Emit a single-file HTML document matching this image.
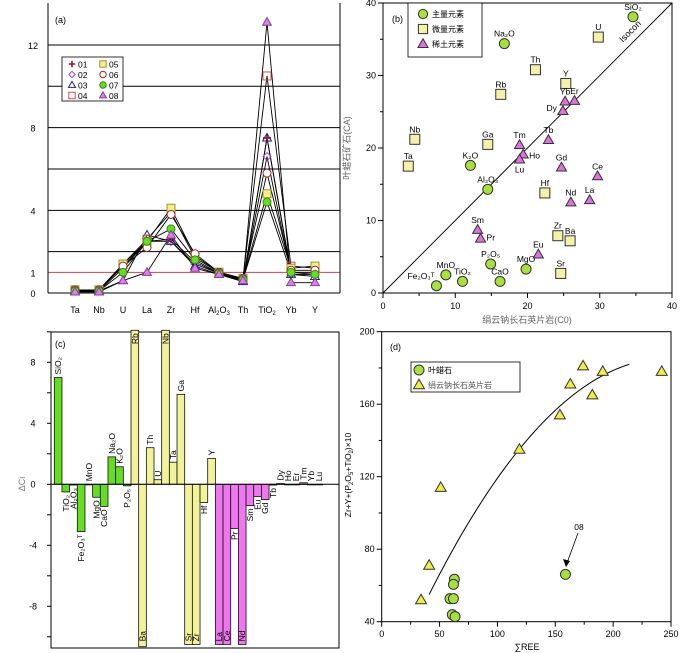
<!DOCTYPE html>
<html><head><meta charset="utf-8"><style>
html,body{margin:0;padding:0;background:#fff;}
svg{display:block;font-family:"Liberation Sans","Noto Sans CJK SC",sans-serif;}
</style></head><body>
<svg id="fig" width="700" height="653" viewBox="0 0 700 653" xmlns="http://www.w3.org/2000/svg">
<g id="pa"></g>
<g id="pb"></g>
<g id="pc"></g>
<g id="pd"></g>
</svg>
<script>
// ---------- Panel (a) data ----------
const aCats = ["Ta","Nb","U","La","Zr","Hf","Al2O3","Th","TiO2","Yb","Y"];
const aSamples = ["01","02","03","04","05","06","07","08"];
const a01 = [0.15,0.15,1.3,2.5,2.6,1.5,0.95,0.6,7.5,1.0,1.0];
const a02 = [0.1,0.1,1.2,2.5,2.5,1.4,0.95,0.6,6.6,0.9,0.9];
const a03 = [0.1,0.1,0.6,2.8,2.5,1.3,0.9,0.55,7.5,0.9,0.8];
const a04 = [0.15,0.15,1.4,2.6,3.9,1.7,1.0,0.7,10.5,1.3,1.2];
const a05 = [0.15,0.15,1.4,2.5,4.1,1.8,1.0,0.7,4.8,1.2,1.3];
const a06 = [0.15,0.15,1.3,2.2,3.8,1.9,1.0,0.7,5.8,1.1,1.1];
const a07 = [0.1,0.1,1.0,2.5,3.1,1.6,0.95,0.65,4.4,1.0,0.9];
const a08 = [0.05,0.05,0.6,1.0,2.8,1.2,0.9,0.6,13.1,0.5,0.5];
const aYTicks = [0,1,4,8,12];
const aGrid = [2,4,6,8,10,12];
// ---------- Panel (b) data ----------
const bMajorNames = ["SiO2","Na2O","K2O","Al2O3","P2O5","MgO","CaO","TiO2","MnO","Fe2O3T"];
const bMajorX = [34.6,16.8,12.1,14.5,14.9,19.8,16.2,11.0,8.7,7.4];
const bMajorY = [38.1,34.4,17.6,14.3,4.0,3.3,1.6,1.6,2.5,1.0];
const bTraceNames = ["U","Th","Y","Rb","Nb","Ga","Ta","Hf","Zr","Ba","Sr"];
const bTraceX = [29.8,21.1,25.3,16.3,4.4,14.5,3.5,22.4,24.2,25.9,24.6];
const bTraceY = [35.3,30.8,28.9,27.4,21.2,20.5,17.5,13.8,7.9,7.2,2.7];
const bReeNames = ["Yb","Er","Dy","Tm","Tb","Ho","Lu","Gd","Ce","Nd","La","Sm","Pr","Eu"];
const bReeX = [25.2,26.5,24.9,18.9,22.9,19.4,18.9,24.7,29.7,26.0,28.6,13.1,13.5,21.5];
const bReeY = [26.4,26.5,25.1,20.4,21.1,19.1,18.4,17.3,16.1,12.5,12.8,8.7,7.5,5.3];
const bTicks = [0,10,20,30,40];
// ---------- Panel (c) data ----------
const cNames = ["SiO2","TiO2","Al2O3","Fe2O3T","MnO","MgO","CaO","Na2O","K2O","P2O5","Rb","Ba","Th","U","Nb","Ta","Ga","Sr","Zr","Hf","Y","La","Ce","Pr","Nd","Sm","Eu","Gd","Tb","Dy","Ho","Er","Tm","Yb","Lu"];
const cValues = [7.0,-0.5,-0.05,-3.1,0,-0.85,-1.45,1.8,1.15,-0.1,12,-12,2.4,0.3,12,1.45,5.9,-12,-12,-1.2,1.7,-12,-12,-2.9,-12,-1.4,-0.8,-1.0,-0.05,0.05,0,0,0.1,0,0];
const cGroups = ["maj","maj","maj","maj","maj","maj","maj","maj","maj","maj","tr","tr","tr","tr","tr","tr","tr","tr","tr","tr","tr","ree","ree","ree","ree","ree","ree","ree","ree","ree","ree","ree","ree","ree","ree"];
const cTicks = [8,4,0,-4,-8];
// ---------- Panel (d) data ----------
const dTriX = [34,41,51,119,154,163,174,182,191,242];
const dTriY = [52,71,114,135,154,171,181,165,178,178];
const dCirX = [62.8,62,59,62,61,63.4,158.8];
const dCirY = [63.4,60.6,52.7,52.7,43.9,42.8,66.1];
const dCurveX = [41,120,214];
const dCurveY = [55,136,182];
const dXTicks = [0,50,100,150,200,250];
const dYTicks = [40,80,120,160,200];

const NS="http://www.w3.org/2000/svg";
function mk(parent,tag,attrs,text){const e=document.createElementNS(NS,tag);for(const k in attrs)e.setAttribute(k,attrs[k]);if(text!==undefined)e.textContent=text;parent.appendChild(e);return e;}
function chem(s){return s.replace(/2O3T/,"₂O₃ᵀ").replace(/2O5/,"₂O₅").replace(/2O3/,"₂O₃").replace(/2O/,"₂O").replace(/O2$/,"O₂");}
function marker(g,shape,x,y,r,fill,stroke){
  let e;
  if(shape==="circle") e=mk(g,"circle",{cx:x,cy:y,r:r,fill:fill,stroke:stroke,"stroke-width":1});
  else if(shape==="square") e=mk(g,"rect",{x:x-r,y:y-r,width:2*r,height:2*r,fill:fill,stroke:stroke,"stroke-width":1});
  else if(shape==="tri") e=mk(g,"polygon",{points:`${x},${y-r*1.15} ${x-r*1.1},${y+r*0.75} ${x+r*1.1},${y+r*0.75}`,fill:fill,stroke:stroke,"stroke-width":1});
  else if(shape==="diamond") e=mk(g,"polygon",{points:`${x},${y-r} ${x-r},${y} ${x},${y+r} ${x+r},${y}`,fill:fill,stroke:stroke,"stroke-width":1});
  else { e=mk(g,"path",{d:`M${x-r},${y}H${x+r}M${x},${y-r}V${y+r}`,stroke:stroke,"stroke-width":1.6,fill:"none"}); }
  return e;
}

// ================= Panel A =================
(function(){
const g=document.getElementById("pa");
const L=48,R=340,B=293,T=3;
const xa=i=>75+i*24;
const ya=v=>B-v*20.67;
aGrid.forEach(v=>{const l=mk(g,"line",{x1:L,x2:R,y1:ya(v),y2:ya(v),stroke:"#000","stroke-width":1});

});
const rl=mk(g,"line",{x1:L,x2:R,y1:ya(1),y2:ya(1),stroke:"#d04050","stroke-width":1});


mk(g,"line",{x1:L,x2:L,y1:T,y2:B,stroke:"#000"});
mk(g,"line",{x1:R,x2:R,y1:T,y2:B,stroke:"#000"});
mk(g,"line",{x1:L,x2:R,y1:B,y2:B,stroke:"#000"});
aYTicks.forEach(v=>{const t=mk(g,"text",{x:33,y:ya(v)+4,"font-size":9,"text-anchor":"middle"},String(v));

});
aCats.forEach((c,i)=>{const t=mk(g,"text",{x:xa(i),y:313,"font-size":9,"text-anchor":"middle"});


if(c==="Al2O3"){t.innerHTML='Al<tspan font-size="6" dy="2">2</tspan><tspan dy="-2">O</tspan><tspan font-size="6" dy="2">3</tspan>';}
else if(c==="TiO2"){t.innerHTML='TiO<tspan font-size="6" dy="2">2</tspan>';}
else t.textContent=c;});
const series=[a01,a02,a03,a04,a05,a06,a07,a08];
const styles=[["plus","none","#a01020"],["diamond","none","#a040c0"],["tri","none","#202080"],["square","none","#d05050"],["square","#f2f08a","#a09030"],["circle","#fff","#a02020"],["circle","#66dd22","#338811"],["tri","#e080e0","#8040a0"]];
series.forEach((s,k)=>{
  const pts=s.map((v,i)=>xa(i)+","+ya(v)).join(" ");
  const pl=mk(g,"polyline",{points:pts,fill:"none",stroke:"#000","stroke-width":0.9});
  
  
});
series.forEach((s,k)=>{
  s.forEach((v,i)=>{const m=marker(g,styles[k][0],xa(i),ya(v),4,styles[k][1],styles[k][2]);
  
  });
});
mk(g,"text",{x:55,y:23,"font-size":9},"(a)");
const lg=mk(g,"g",{});


mk(lg,"rect",{x:62,y:57,width:61,height:44,fill:"#fff",stroke:"#000","stroke-width":0.8});
aSamples.forEach((n,k)=>{const col=k<4?0:1;const row=k%4;const x=72+col*31,y=64+row*10.5;
marker(lg,styles[k][0],x,y,3.2,styles[k][1],styles[k][2]);
const t=mk(lg,"text",{x:x+6,y:y+3.5,"font-size":8.5},n);

});
})();

// ================= Panel B =================
(function(){
const g=document.getElementById("pb");
const L=383,R=672,T=3,B=293;
const xb=v=>L+v*(R-L)/40, yb=v=>B-v*(B-T)/40;
mk(g,"rect",{x:L,y:T,width:R-L,height:B-T,fill:"none",stroke:"#000","stroke-width":1});
const il=mk(g,"line",{x1:xb(0),y1:yb(0),x2:xb(40),y2:yb(40),stroke:"#000","stroke-width":0.9});


mk(g,"text",{x:0,y:0,"font-size":9,transform:`translate(${xb(33.2)},${yb(34.5)}) rotate(-45)`},"Isocon");
for(let v=0;v<=40;v+=5){const len=v%10===0?5:3;
mk(g,"line",{x1:xb(v),x2:xb(v),y1:B,y2:B+len,stroke:"#000"});
mk(g,"line",{x1:L-len,x2:L,y1:yb(v),y2:yb(v),stroke:"#000"});}
bTicks.forEach(v=>{
const t1=mk(g,"text",{x:xb(v),y:309,"font-size":9,"text-anchor":"middle"},String(v));


const t2=mk(g,"text",{x:L-7,y:yb(v)+3,"font-size":9,"text-anchor":"end"},String(v));

});
const yt=mk(g,"text",{x:0,y:0,"font-size":9,fill:"#666","text-anchor":"middle",transform:`translate(350,148) rotate(-90)`},"叶蜡石矿石(CA)");


const xt=mk(g,"text",{x:527,y:323,"font-size":9,fill:"#666","text-anchor":"middle"},"绢云钠长石英片岩(C0)");


mk(g,"text",{x:392,y:22,"font-size":9},"(b)");
function plot(names,xs,ys,shape,fill,stroke){
names.forEach((n,i)=>{const x=xb(xs[i]),y=yb(ys[i]);
const m=marker(g,shape,x,y,shape==="tri"?4.6:5,fill,stroke);


let lx=x,ly=y-7,anc="middle";
if(n==="Ho"){lx=x+6;ly=y+4;anc="start";}
if(n==="Lu"){ly=y+13;}
if(n==="Pr"){lx=x+6;ly=y+2;anc="start";}
if(n==="Dy"){lx=x-6;ly=y;anc="end";}
if(n==="Fe2O3T"){lx=x-2;ly=y-7;anc="end";}
const t=mk(g,"text",{x:lx,y:ly,"font-size":8.5,"text-anchor":anc},chem(n));

});}
plot(bTraceNames,bTraceX,bTraceY,"square","#f4f2a8","#333");
plot(bMajorNames,bMajorX,bMajorY,"circle","#a8e040","#333");
plot(bReeNames,bReeX,bReeY,"tri","#e070e0","#333");
const lg=mk(g,"g",{});


mk(lg,"rect",{x:408,y:3,width:74,height:54,fill:"#fff",stroke:"#000","stroke-width":0.8});
[["circle","#a8e040","主量元素"],["square","#f4f2a8","微量元素"],["tri","#e070e0","稀土元素"]].forEach((s,i)=>{
marker(lg,s[0],423,14+i*15,4.6,s[1],"#333");
const t=mk(lg,"text",{x:432,y:17+i*15,"font-size":8},s[2]);

});
})();

// ================= Panel C =================
(function(){
const g=document.getElementById("pc");
const L=51,R=339,T=332,B=648;
const yc=v=>484.3-v*15.25;
const bw=7.67, x0=54.3;
const cols={maj:"#66dd22",tr:"#f2f29a",ree:"#ee77ee"};
mk(g,"rect",{x:L,y:T,width:R-L,height:B-T,fill:"none",stroke:"#000","stroke-width":1});
cValues.forEach((v,i)=>{
 let vc=Math.max(-10.5,Math.min(10.1,v));
 if(cNames[i]==="Ba"&&v<-10.5) vc=-10.65;
 const x=x0+i*bw, y1=yc(Math.max(0,vc)), y2=yc(Math.min(0,vc));
 const r=mk(g,"rect",{x:x,y:y1,width:bw,height:Math.max(0.6,y2-y1),fill:cols[cGroups[i]],stroke:"#111","stroke-width":0.8});
 
 
 const cx=x+bw/2+3;
 let ty, anc;
 const clipped=(v>10.1||v<-10.5);
 if(clipped&&v>0){ty=yc(10.1)+3;anc="end";}
 else if(clipped){ty=yc(-10.5)-3;anc="start";}
 else if(v>=0){ty=y1-3;anc="start";}
 else {ty=y2+3;anc="end";}
 const t=mk(g,"text",{x:0,y:0,"font-size":8.5,"text-anchor":anc,transform:`translate(${cx},${ty}) rotate(-90)`},chem(cNames[i]));
 
 
});
mk(g,"line",{x1:L,x2:R,y1:yc(0),y2:yc(0),stroke:"#000","stroke-width":1});
for(let v=-10;v<=10;v+=2){mk(g,"line",{x1:L-4,x2:L,y1:yc(v),y2:yc(v),stroke:"#000"});}
cTicks.forEach(v=>{const t=mk(g,"text",{x:33,y:yc(v)+3,"font-size":9,"text-anchor":"middle"},String(v));

});
const yt=mk(g,"text",{x:0,y:0,"font-size":9,fill:"#777","text-anchor":"middle",transform:`translate(25,484) rotate(-90)`},"ΔCi");


mk(g,"text",{x:55,y:347,"font-size":9},"(c)");
})();

// ================= Panel D =================
(function(){
const g=document.getElementById("pd");
const L=381.7,R=671,T=331.7,B=621.7;
const xd=v=>L+v*(R-L)/250, yd=v=>B-(v-40)*(B-T)/160;
mk(g,"rect",{x:L,y:T,width:R-L,height:B-T,fill:"none",stroke:"#000","stroke-width":1});
for(let v=0;v<=250;v+=25){const len=v%50===0?5:3;mk(g,"line",{x1:xd(v),x2:xd(v),y1:B,y2:B+len,stroke:"#000"});}
for(let v=40;v<=200;v+=20){const len=v%40===0?5:3;mk(g,"line",{x1:L-len,x2:L,y1:yd(v),y2:yd(v),stroke:"#000"});}
dXTicks.forEach(v=>{const t=mk(g,"text",{x:xd(v),y:637,"font-size":9,"text-anchor":"middle"},String(v));

});
dYTicks.forEach(v=>{const t=mk(g,"text",{x:L-7,y:yd(v)+3,"font-size":9,"text-anchor":"end"},String(v));

});
const xt=mk(g,"text",{x:527,y:650,"font-size":9,"text-anchor":"middle"},"∑REE");


const yt=mk(g,"text",{x:0,y:0,"font-size":8.5,"text-anchor":"middle",transform:`translate(351,475) rotate(-90)`});
yt.innerHTML='Zr+Y+(P<tspan font-size="6" dy="2">2</tspan><tspan dy="-2">O</tspan><tspan font-size="6" dy="2">5</tspan><tspan dy="-2">+TiO</tspan><tspan font-size="6" dy="2">2</tspan><tspan dy="-2">)×10</tspan>';


mk(g,"text",{x:390,y:350,"font-size":9},"(d)");
// parabola through the three curve anchor points (Lagrange)
const [x0,x1,x2]=dCurveX,[y0,y1,y2]=dCurveY;
const P=x=>y0*(x-x1)*(x-x2)/((x0-x1)*(x0-x2))+y1*(x-x0)*(x-x2)/((x1-x0)*(x1-x2))+y2*(x-x0)*(x-x1)/((x2-x0)*(x2-x1));
let d="";
for(let k=0;k<=60;k++){const x=x0+(x2-x0)*k/60;d+=(k?"L":"M")+xd(x).toFixed(2)+","+yd(P(x)).toFixed(2);}
const cv=mk(g,"path",{d:d,fill:"none",stroke:"#000","stroke-width":1});


dTriX.forEach((x,i)=>{const m=marker(g,"tri",xd(x),yd(dTriY[i]),5,"#eeee44","#333");

});
dCirX.forEach((x,i)=>{const m=marker(g,"circle",xd(x),yd(dCirY[i]),5,"#a8e040","#333");

});
mk(g,"line",{x1:578,y1:533,x2:567,y2:563,stroke:"#000","stroke-width":0.8});
mk(g,"polygon",{points:"566,567 563,559 570,561",fill:"#000"});
mk(g,"text",{x:579,y:530,"font-size":8.5,"text-anchor":"middle"},"08");
const lg=mk(g,"g",{});


mk(lg,"rect",{x:411,y:362,width:109,height:30,fill:"#fff",stroke:"#000","stroke-width":0.8});
marker(lg,"circle",419,370,5,"#a8e040","#333");
marker(lg,"tri",419,385,5,"#eeee44","#333");
const t1=mk(lg,"text",{x:428,y:373,"font-size":8},"叶蜡石");


const t2=mk(lg,"text",{x:428,y:388,"font-size":8,fill:"#555"},"绢云钠长石英片岩");


})();
</script>
</body></html>
